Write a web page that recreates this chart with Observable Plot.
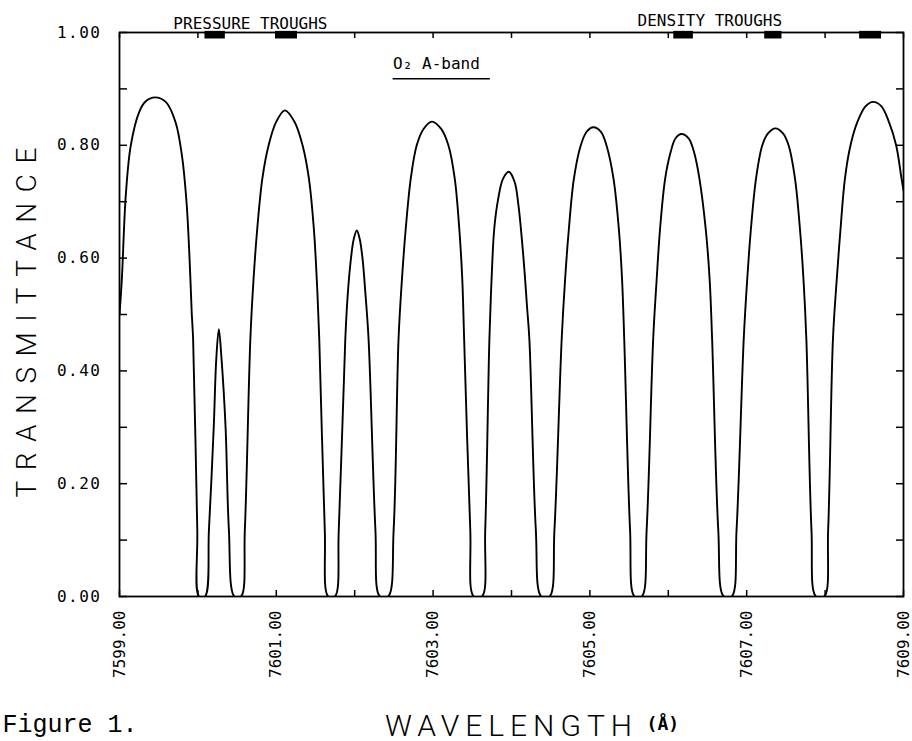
<!DOCTYPE html>
<html><head><meta charset="utf-8">
<script src="https://cdn.jsdelivr.net/npm/d3@7"></script>
<script src="https://cdn.jsdelivr.net/npm/@observablehq/plot@0.6"></script>
<style>
html,body{margin:0;padding:0;background:#fff;}
#chart{width:912px;height:741px;overflow:hidden;}
</style></head><body><div id="chart"></div>
<script>
// Wavelength (Å) and transmittance, arch by arch
const wavelength = [
  7599.000, 7599.030, 7599.080, 7599.144, 7599.251, 7599.335, 7599.454, 7599.590, 7599.715, 7599.796, 7599.855, 7599.892, 7599.921, 7599.939, 7599.992, 7600.015,
  7600.091, 7600.141, 7600.202, 7600.234, 7600.267, 7600.302, 7600.353, 7600.395, 7600.465,
  7600.550, 7600.599, 7600.669, 7600.710, 7600.757, 7600.822, 7600.902, 7600.997, 7601.109, 7601.235, 7601.335, 7601.416, 7601.479, 7601.516, 7601.548, 7601.618, 7601.662,
  7601.748, 7601.797, 7601.880, 7601.910, 7601.952, 7601.988, 7602.027, 7602.064, 7602.100, 7602.139, 7602.177, 7602.264, 7602.321,
  7602.427, 7602.497, 7602.559, 7602.603, 7602.651, 7602.715, 7602.791, 7602.878, 7602.985, 7603.103, 7603.195, 7603.276, 7603.334, 7603.372, 7603.396, 7603.474, 7603.518,
  7603.624, 7603.665, 7603.718, 7603.746, 7603.780, 7603.830, 7603.890, 7603.965, 7604.040, 7604.089, 7604.128, 7604.167, 7604.197, 7604.228, 7604.310, 7604.380,
  7604.486, 7604.548, 7604.640, 7604.684, 7604.732, 7604.796, 7604.884, 7604.958, 7605.043, 7605.141, 7605.211, 7605.301, 7605.369, 7605.410, 7605.438, 7605.512, 7605.569,
  7605.662, 7605.724, 7605.807, 7605.852, 7605.895, 7605.960, 7606.030, 7606.091, 7606.168, 7606.261, 7606.328, 7606.397, 7606.477, 7606.527, 7606.559, 7606.637, 7606.707,
  7606.809, 7606.871, 7606.962, 7607.007, 7607.054, 7607.119, 7607.199, 7607.272, 7607.366, 7607.463, 7607.534, 7607.616, 7607.679, 7607.724, 7607.761, 7607.826, 7607.883,
  7607.990, 7608.039, 7608.100, 7608.149, 7608.197, 7608.253, 7608.324, 7608.411, 7608.515, 7608.613, 7608.719, 7608.815, 7608.906, 7608.975, 7609.000
];
const transmittance = [
  0.500, 0.563, 0.711, 0.800, 0.859, 0.878, 0.885, 0.877, 0.841, 0.782, 0.699, 0.604, 0.504, 0.456, 0.119, 0.000,
  0.000, 0.119, 0.300, 0.420, 0.474, 0.420, 0.300, 0.119, 0.000,
  0.000, 0.119, 0.456, 0.563, 0.652, 0.741, 0.800, 0.841, 0.862, 0.841, 0.800, 0.741, 0.652, 0.563, 0.456, 0.119, 0.000,
  0.000, 0.119, 0.456, 0.533, 0.599, 0.634, 0.649, 0.634, 0.599, 0.533, 0.456, 0.119, 0.000,
  0.000, 0.119, 0.456, 0.563, 0.652, 0.741, 0.800, 0.829, 0.842, 0.829, 0.800, 0.741, 0.652, 0.563, 0.456, 0.119, 0.000,
  0.000, 0.119, 0.456, 0.563, 0.652, 0.705, 0.740, 0.753, 0.735, 0.693, 0.640, 0.575, 0.516, 0.456, 0.119, 0.000,
  0.000, 0.119, 0.456, 0.563, 0.652, 0.741, 0.800, 0.824, 0.832, 0.824, 0.800, 0.741, 0.652, 0.563, 0.456, 0.119, 0.000,
  0.000, 0.119, 0.456, 0.563, 0.652, 0.741, 0.788, 0.812, 0.820, 0.812, 0.788, 0.741, 0.652, 0.563, 0.456, 0.119, 0.000,
  0.000, 0.119, 0.456, 0.563, 0.652, 0.741, 0.800, 0.821, 0.830, 0.821, 0.800, 0.741, 0.652, 0.563, 0.456, 0.119, 0.000,
  0.000, 0.119, 0.456, 0.563, 0.652, 0.741, 0.800, 0.841, 0.869, 0.877, 0.869, 0.841, 0.800, 0.741, 0.720
];

// Trough markers along the top edge (Å ranges)
const pressureTroughStart = [7600.09, 7600.99];
const pressureTroughEnd   = [7600.35, 7601.27];
const densityTroughStart  = [7606.07, 7607.23, 7608.44];
const densityTroughEnd    = [7606.32, 7607.45, 7608.72];

// Axis ticks
const xTicks = [7599, 7600, 7601, 7602, 7603, 7604, 7605, 7606, 7607, 7608, 7609];
const xTickLabels = [7599, 7601, 7603, 7605, 7607, 7609];
const yTicks = [0, 0.1, 0.2, 0.3, 0.4, 0.5, 0.6, 0.7, 0.8, 0.9, 1.0];
const yTickLabels = [0, 0.2, 0.4, 0.6, 0.8, 1.0];

// Annotation anchors (data coordinates)
const pressureLabelX = 7600.67;
const densityLabelX = 7606.53;
const bandLabelX = 7602.49, bandLabelY = 0.936;
const bandRuleX1 = 7602.49, bandRuleX2 = 7603.73, bandRuleY = 0.918;
const xTitleX = 7604.0, unitX = 7605.93;

const curve = wavelength.map((x, i) => ({x, y: transmittance[i]}));
const troughs = [
  ...pressureTroughStart.map((s, i) => ({x1: s, x2: pressureTroughEnd[i]})),
  ...densityTroughStart.map((s, i) => ({x1: s, x2: densityTroughEnd[i]}))
];

const mono = "DejaVu Sans Mono";
const light = "Roboto";

const chart = Plot.plot({
  width: 912,
  height: 741,
  marginTop: 32,
  marginBottom: 145,
  marginLeft: 119,
  marginRight: 9,
  style: {background: "white", color: "black", fontFamily: mono, fontSize: "16px"},
  x: {domain: [7599, 7609], axis: null},
  y: {domain: [0, 1], axis: null},
  marks: [
    Plot.axisX(xTicks, {anchor: "bottom", tickSize: -6, fill: "none", strokeWidth: 1.5}),
    Plot.axisX(xTicks, {anchor: "top", tickSize: -5, fill: "none", strokeWidth: 1.5}),
    Plot.axisY(yTicks, {anchor: "left", tickSize: -8, fill: "none", strokeWidth: 1.5}),
    Plot.axisY(yTicks, {anchor: "right", tickSize: -8, fill: "none", strokeWidth: 1.5}),
    Plot.axisX(xTickLabels, {anchor: "bottom", tickSize: 0, tickPadding: 14, tickRotate: -90,
      tickFormat: d => d.toFixed(2), label: null, fontSize: 16, fontFamily: mono}),
    Plot.axisY(yTickLabels, {anchor: "left", tickSize: 0, tickPadding: 18,
      tickFormat: d => d.toFixed(2), label: null, fontSize: 16, fontFamily: mono}),
    Plot.frame({stroke: "black", strokeWidth: 1.8}),
    Plot.line(curve, {x: "x", y: "y", curve: "catmull-rom", clip: true, stroke: "black", strokeWidth: 1.9}),
    Plot.rect(troughs, {x1: "x1", x2: "x2", y1: 0.9885, y2: 1.002, fill: "black"}),
    Plot.text(["PRESSURE TROUGHS"], {x: pressureLabelX, frameAnchor: "top", dy: -4, lineAnchor: "bottom",
      text: d => d, fontFamily: mono, fontSize: 16}),
    Plot.text(["DENSITY TROUGHS"], {x: densityLabelX, frameAnchor: "top", dy: -7, lineAnchor: "bottom",
      text: d => d, fontFamily: mono, fontSize: 16}),
    Plot.text(["O\u2082 A-band"], {x: bandLabelX, y: bandLabelY, textAnchor: "start", lineAnchor: "bottom",
      text: d => d, fontFamily: mono, fontSize: 16}),
    Plot.ruleY([bandRuleY], {x1: bandRuleX1, x2: bandRuleX2, strokeWidth: 1.3}),
    Plot.text(["TRANSMITTANCE"], {y: 0.495, frameAnchor: "left", textAnchor: "middle", dx: -92, rotate: -90,
      text: d => d, fontFamily: light, fontWeight: 300, fontSize: 28}),
    Plot.text(["WAVELENGTH"], {x: xTitleX, frameAnchor: "bottom", dy: 139, lineAnchor: "bottom",
      text: d => d, fontFamily: light, fontWeight: 300, fontSize: 30}),
    Plot.text(["(\u00C5)"], {x: unitX, frameAnchor: "bottom", dy: 133, lineAnchor: "bottom",
      text: d => d, fontFamily: mono, fontWeight: "bold", fontSize: 18}),
    Plot.text(["Figure 1."], {frameAnchor: "bottom-left", dx: -117, dy: 135, lineAnchor: "bottom", textAnchor: "start",
      text: d => d, fontFamily: "Liberation Mono", fontSize: 25})
  ]
});

document.getElementById("chart").appendChild(chart);
const svg = d3.select(chart);
svg.selectAll('g[aria-label="y-axis tick label"] text').style("letter-spacing", "1.5px");
svg.selectAll("text").filter(function() { return this.textContent === "TRANSMITTANCE"; }).style("letter-spacing", "10.5px");
svg.selectAll("text").filter(function() { return this.textContent === "WAVELENGTH"; }).style("letter-spacing", "6px");
</script>
</body></html>
